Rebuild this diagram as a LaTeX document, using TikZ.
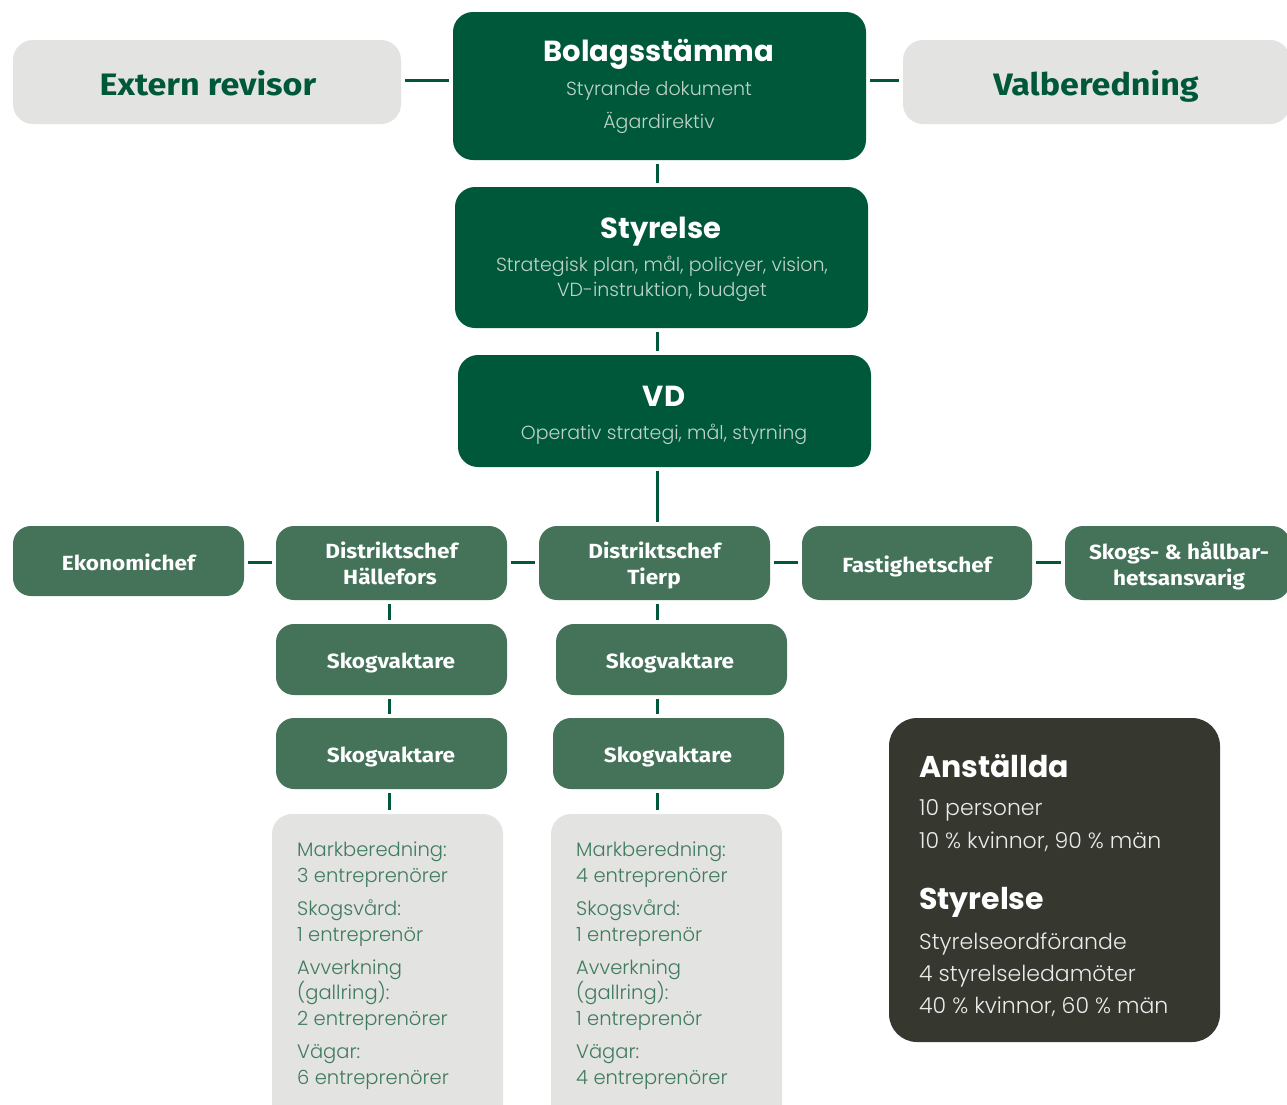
\documentclass[tikz,border=0pt]{standalone}
\usepackage{fontspec}
\setmainfont{Fira Sans}
\newfontfamily\widefont{Fira Sans}[FakeStretch=1.1]
\newfontfamily\headfont{Poppins}
\newfontfamily\lightfont{Poppins}[UprightFont={* Light}]
\definecolor{dg}{HTML}{00583A}
\definecolor{mg}{HTML}{44735A}
\definecolor{lg}{HTML}{E3E3E1}
\definecolor{db}{HTML}{363830}
\definecolor{subc}{HTML}{BFD3C8}
\definecolor{gt}{HTML}{3F7B5E}
\begin{document}
\begin{tikzpicture}[x=1pt,y=-1pt,
  boxbase/.style={inner sep=0pt, draw=none, rounded corners=20pt},
  graybox/.style={boxbase, fill=lg},
  topbox/.style={boxbase, fill=dg},
  rowbox/.style={boxbase, fill=mg, rounded corners=18pt},
  darkbox/.style={boxbase, fill=db, rounded corners=28pt},
  txt/.style={inner sep=0pt, anchor=base},
  ltxt/.style={inner sep=0pt, anchor=base west},
  bigtitle/.style={txt, font=\headfont\bfseries\fontsize{29}{32}\selectfont, text=white},
  subtxt/.style={txt, font=\lightfont\fontsize{19}{22}\selectfont, text=subc},
  sidetitle/.style={txt, font=\widefont\bfseries\fontsize{31}{34}\selectfont, text=dg},
  rowtxt/.style={txt, font=\widefont\bfseries\fontsize{20.5}{23}\selectfont, text=white},
  graytxt/.style={ltxt, font=\lightfont\fontsize{19.5}{22}\selectfont, text=gt},
  darkhead/.style={ltxt, font=\headfont\bfseries\fontsize{30}{33}\selectfont, text=white},
  darktxt/.style={ltxt, font=\lightfont\fontsize{22}{25}\selectfont, text=white!92!black},
  conn/.style={draw=dg, line width=3pt, shorten <=4pt, shorten >=4pt}
]
\useasboundingbox (0,0) rectangle (1287,1104);
\fill[white] (0,0) rectangle (1287,1104);

% spine coordinates
\coordinate (spine) at (657,0);
\coordinate (hcol) at (389,0);

% top boxes
\node[graybox, minimum width=388pt, minimum height=84pt] (ext) at (207,82) {};
\node[topbox, minimum width=413pt, minimum height=148pt] (bol) at (659.5,86) {};
\node[graybox, minimum width=387pt, minimum height=84pt] (val) at (1096.5,82) {};
\node[topbox, minimum width=413pt, minimum height=141pt] (sty) at (661.5,257.5) {};
\node[topbox, minimum width=413pt, minimum height=112pt] (vd) at (664.5,411) {};

\node[sidetitle] (extT) at (208,95) {Extern revisor};
\node[sidetitle] (valT) at (1096,95) {Valberedning};
\node[bigtitle] (bolT) at (659,61) {Bolagsstämma};
\node[subtxt] (bolS1) at (659,95) {Styrande dokument};
\node[subtxt] (bolS2) at (659,128) {Ägardirektiv};
\node[bigtitle] (styT) at (661,238) {Styrelse};
\node[subtxt] (styS1) at (662,271) {Strategisk plan, mål, policyer, vision,};
\node[subtxt] (styS2) at (662,296) {VD-instruktion, budget};
\node[bigtitle] (vdT) at (664,406) {VD};
\node[subtxt] (vdS) at (664,439) {Operativ strategi, mål, styrning};

% row boxes
\node[rowbox, minimum width=231pt, minimum height=70pt] (eko) at (128.5,561) {};
\node[rowbox, minimum width=231pt, minimum height=74pt] (dh) at (391.5,563) {};
\node[rowbox, minimum width=231pt, minimum height=74pt] (dt) at (654.5,563) {};
\node[rowbox, minimum width=230pt, minimum height=74pt] (fas) at (917,563) {};
\node[rowbox, minimum width=225pt, minimum height=74pt] (skh) at (1177.5,563) {};

\node[rowtxt] (ekoT) at (128.5,570) {Ekonomichef};
\node[rowtxt] (dhT1) at (391.5,558) {Distriktschef};
\node[rowtxt] (dhT2) at (390,584) {Hällefors};
\node[rowtxt] (dtT1) at (654.5,558) {Distriktschef};
\node[rowtxt] (dtT2) at (654,584) {Tierp};
\node[rowtxt] (fasT) at (917,572) {Fastighetschef};
\node[rowtxt] (skhT1) at (1179,559) {Skogs- \& hållbar-};
\node[rowtxt] (skhT2) at (1179,585) {hetsansvarig};

% skogvaktare
\node[rowbox, minimum width=231pt, minimum height=71pt] (svh1) at (391.5,659.5) {};
\node[rowbox, minimum width=231pt, minimum height=71pt] (svh2) at (391.5,753.5) {};
\node[rowbox, minimum width=231pt, minimum height=71pt] (svt1) at (671.5,659.5) {};
\node[rowbox, minimum width=231pt, minimum height=71pt] (svt2) at (668.5,753.5) {};
\node[rowtxt] (svh1T) at (391,668) {Skogvaktare};
\node[rowtxt] (svh2T) at (391,762) {Skogvaktare};
\node[rowtxt] (svt1T) at (670,668) {Skogvaktare};
\node[rowtxt] (svt2T) at (668,762) {Skogvaktare};

% gray contractor boxes
\node[graybox, minimum width=231pt, minimum height=316pt] (grh) at (387.5,972) {};
\node[graybox, minimum width=231pt, minimum height=316pt] (grt) at (666.5,972) {};

\node[graytxt] (gh1) at (297,856) {Markberedning:};
\node[graytxt] (gh2) at (297,882) {3 entreprenörer};
\node[graytxt] (gh3) at (297,915) {Skogsvård:};
\node[graytxt] (gh4) at (297,941) {1 entreprenör};
\node[graytxt] (gh5) at (297,974) {Avverkning};
\node[graytxt] (gh6) at (297,999) {(gallring):};
\node[graytxt] (gh7) at (297,1025) {2 entreprenörer};
\node[graytxt] (gh8) at (297,1058) {Vägar:};
\node[graytxt] (gh9) at (297,1084) {6 entreprenörer};

\node[graytxt] (gt1) at (576,856) {Markberedning:};
\node[graytxt] (gt2) at (576,882) {4 entreprenörer};
\node[graytxt] (gt3) at (576,915) {Skogsvård:};
\node[graytxt] (gt4) at (576,941) {1 entreprenör};
\node[graytxt] (gt5) at (576,974) {Avverkning};
\node[graytxt] (gt6) at (576,999) {(gallring):};
\node[graytxt] (gt7) at (576,1025) {1 entreprenör};
\node[graytxt] (gt8) at (576,1058) {Vägar:};
\node[graytxt] (gt9) at (576,1084) {4 entreprenörer};

% dark info box
\node[darkbox, minimum width=331pt, minimum height=324pt] (info) at (1054.5,880) {};
\node[darkhead] (infoH1) at (919,777) {Anställda};
\node[darktxt] (info1) at (919,815) {10 personer};
\node[darktxt] (info2) at (919,848) {10 \% kvinnor, 90 \% män};
\node[darkhead] (infoH2) at (919,909) {Styrelse};
\node[darktxt] (info3) at (919,949) {Styrelseordförande};
\node[darktxt] (info4) at (919,981) {4 styrelseledamöter};
\node[darktxt] (info5) at (919,1013) {40 \% kvinnor, 60 \% män};

% connectors
\draw[conn] (ext.east |- 0,80) -- (bol.west |- 0,80);
\draw[conn] (bol.east |- 0,80) -- (val.west |- 0,80);
\draw[conn] (bol.south -| spine) -- (sty.north -| spine);
\draw[conn] (sty.south -| spine) -- (vd.north -| spine);
\draw[conn] (vd.south -| spine) -- (dt.north -| spine);
\draw[conn] (eko.east |- 0,562) -- (dh.west |- 0,562);
\draw[conn] (dh.east |- 0,562) -- (dt.west |- 0,562);
\draw[conn] (dt.east |- 0,562) -- (fas.west |- 0,562);
\draw[conn] (fas.east |- 0,562) -- (skh.west |- 0,562);
\draw[conn] (dh.south -| hcol) -- (svh1.north -| hcol);
\draw[conn] (svh1.south -| hcol) -- (svh2.north -| hcol);
\draw[conn] (svh2.south -| hcol) -- (grh.north -| hcol);
\draw[conn] (dt.south -| spine) -- (svt1.north -| spine);
\draw[conn] (svt1.south -| spine) -- (svt2.north -| spine);
\draw[conn] (svt2.south -| spine) -- (grt.north -| spine);
\end{tikzpicture}
\end{document}
